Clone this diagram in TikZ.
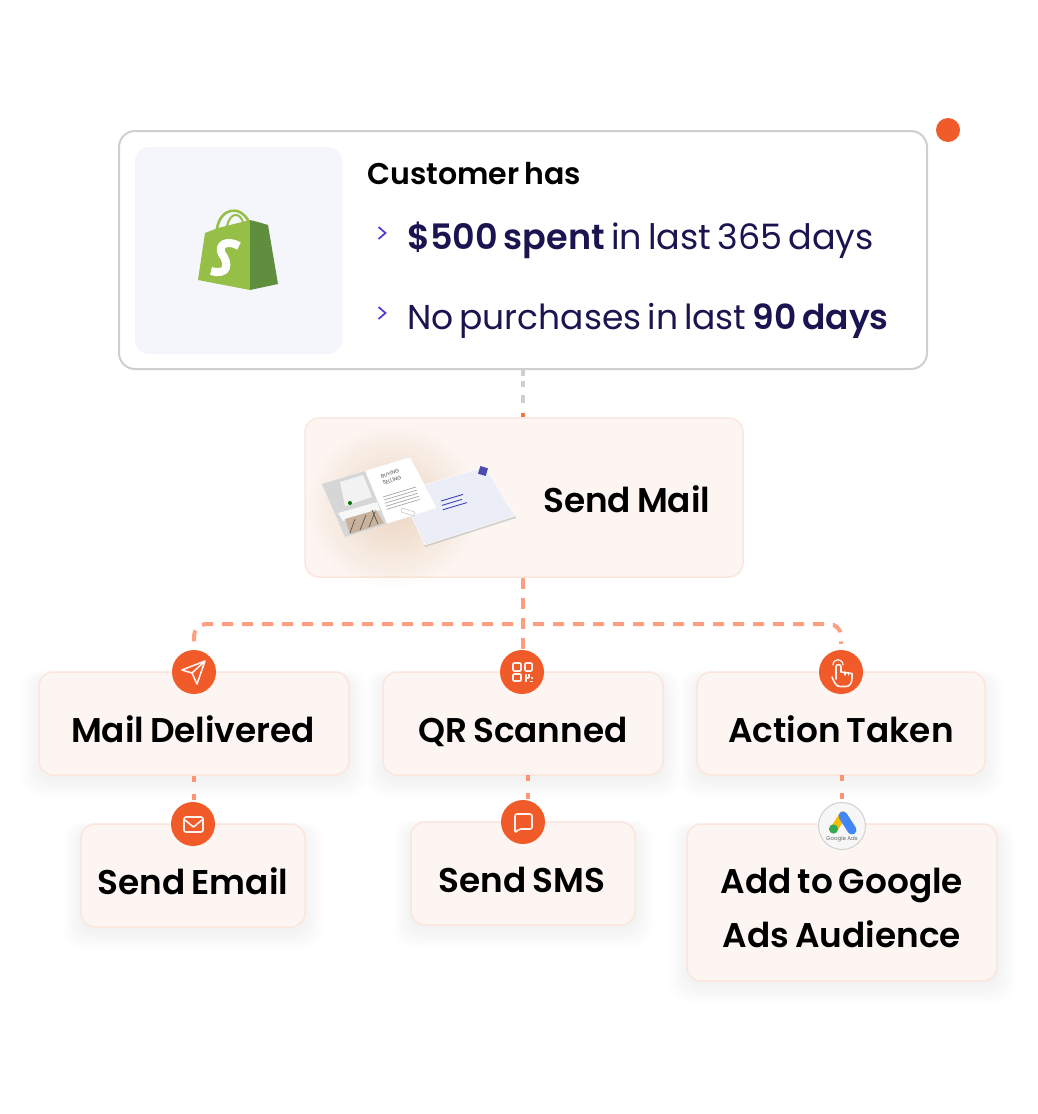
\documentclass[tikz,border=0pt]{standalone}
\usepackage{fontspec}
\setmainfont{Poppins}
\newfontfamily\regf{Poppins}[WordSpace=0.7]
\newfontfamily\regfb{Poppins}[WordSpace=0.65]
\newfontfamily\semif{Poppins SemiBold}[WordSpace=0.72]
\usetikzlibrary{calc}
\definecolor{orng}{HTML}{F15A29}
\definecolor{salmon}{HTML}{FF9F80}
\definecolor{cardfill}{HTML}{FDF5F1}
\definecolor{cardline}{HTML}{FBE6DD}
\definecolor{navy}{HTML}{1A1450}
\definecolor{violet}{HTML}{4F3BD9}
\definecolor{greyline}{HTML}{CFCFCF}
\definecolor{logobg}{HTML}{F4F6FC}
\definecolor{shopl}{HTML}{95BF47}
\definecolor{shopd}{HTML}{5E8E3E}
\definecolor{gyellow}{HTML}{FBBC04}
\definecolor{gblue}{HTML}{4285F4}
\definecolor{ggreen}{HTML}{34A853}
\definecolor{envfill}{HTML}{EBEEF7}
\tikzset{
 card/.style={draw=cardline,fill=cardfill,line width=1.5pt,rounded corners=14pt,inner sep=0pt},
 cardtext/.style={anchor=base,inner sep=0pt,text=black,font=\semif\fontsize{34.3}{34.3}\selectfont},
 iconcirc/.style={circle,fill=orng,minimum size=44pt,inner sep=0pt},
 iconline/.style={draw=white,line width=1.6pt,line join=round,line cap=round,opacity=.92},
 conn/.style={draw=salmon,line width=4pt,dash pattern=on 11pt off 9pt},
 lowconn/.style={draw=salmon!85!orng,line width=4pt,dash pattern=on 6pt off 12pt}
}
\newcommand{\softshadow}[4]{%
 \foreach \i in {1,...,12}{%
  \fill[black,opacity=.0035,rounded corners=18pt] (#1-\i*1.5,#2-\i*.5+4) rectangle (#3+\i*1.5,#4+\i*1.5+4);}}
\newcommand{\card}[5]{% name,x1,y1,x2,y2
 \softshadow{#2}{#3}{#4}{#5}
 \node[card,minimum width=#4pt-#2pt,minimum height=#5pt-#3pt] (#1) at ({(#2+#4)/2},{(#3+#5)/2}) {};}
\begin{document}
\begin{tikzpicture}[x=1pt,y=-1pt]
\useasboundingbox (0,0) rectangle (1038,1114);
% top card
\node[draw=greyline,fill=white,line width=2pt,rounded corners=16pt,minimum width=808pt,minimum height=238pt,inner sep=0pt] (top) at (523,250) {};
\node[fill=logobg,rounded corners=14pt,minimum width=207pt,minimum height=207pt,inner sep=0pt] (logo) at (238.5,250.5) {};
\node[circle,fill=orng,minimum size=24pt,inner sep=0pt] (dot) at (948,130) {};
% shopify bag
\draw[shopl,line width=2.6pt] (217,229) .. controls (220,208) and (240,204) .. (249,222);
\draw[shopl,line width=2pt] (227,226) .. controls (230,213) and (239,211) .. (243,222);
\fill[shopl,line join=round] (198,280) -- (205,233) -- (218,228) -- (250,220) -- (250,290) -- cycle;
\fill[shopd,line join=round] (250,220) -- (258,222) -- (268,225) -- (278,284) -- (250,290) -- cycle;
\draw[white,line width=8pt,line cap=butt] (239,246) .. controls (227,239) and (217,245) .. (222,254) .. controls (229,263) and (229,276) .. (211,271);
% text top
\node[anchor=base west,inner sep=0pt,text=black,font=\semif\fontsize{30}{30}\selectfont] (cust) at (367,184) {Customer has};
\node[anchor=base west,inner sep=0pt,text=navy,font=\regf\fontsize{35}{35}\selectfont] (l1) at (407,249) {{\semif \$500 spent} in last 365 days};
\node[anchor=base west,inner sep=0pt,text=navy,font=\regfb\fontsize{34.5}{34.5}\selectfont] (l2) at (407,329) {No purchases in last {\semif 90 days}};
\coordinate (c1) at (382,233);
\coordinate (c2) at (382,313);
\draw[violet,line width=1.7pt] ($(c1)+(-3.5,-6)$) -- ($(c1)+(3.5,0)$) -- ($(c1)+(-3.5,6)$);
\draw[violet,line width=1.7pt] ($(c2)+(-3.5,-6)$) -- ($(c2)+(3.5,0)$) -- ($(c2)+(-3.5,6)$);
% send mail
\node[card,minimum width=438pt,minimum height=159pt] (send) at (524,497.5) {};
\node[cardtext,anchor=base west] (sendt) at (543,512) {Send Mail};
% glow
\foreach \r in {5,10,...,80}{\fill[brown!75!red!80!black,opacity=.012] (393,507) ellipse ({\r*1.05} and \r);}
% envelope
\fill[black!30,opacity=.55] (425,547) -- (516,518) -- (515,515) -- (424,544) -- cycle;
\fill[envfill,draw=white,line width=.4pt] (400,492) -- (485,467) -- (515,516) -- (425,545) -- cycle;
\foreach \k/\w in {0/22,1/20,2/24}{\draw[blue!65!black!75,line width=.9pt] (441+\k*.9,501+\k*4.4) -- ++(\w,-\w*.3);}
\fill[blue!55!black!70,rotate around={-17:(483,471)}] (479,467) rectangle (487,475);
% postcard
\fill[white,draw=black!8,line width=.3pt] (322,484) -- (410,457) -- (437,508) -- (345,537) -- cycle;
\fill[black!16] (322,484) -- (365,471) -- (387,524) -- (345,537) -- cycle;
\fill[black!5] (340,482) -- (363,475) -- (372,497) -- (345,506) -- cycle;
\fill[black!3] (338,513) -- (377,502) -- (380,510) -- (343,521) -- cycle;
\fill[brown!60!gray!60] (345,519) -- (376,510) -- (384,523) -- (350,534) -- cycle;
\draw[black!70,line width=.6pt] (350,533) -- (355,519) (360,530) -- (366,515) (369,527) -- (375,512) (378,524) -- (372,510);
\fill[green!45!black] (350,503) circle (2);
\node[rotate=17,font=\fontsize{5.2}{7}\selectfont,text=black!70,align=center,inner sep=0pt] (buy) at (391,477) {BUYING\\ SELLING};
\foreach \k in {0,1,2,3,4}{\draw[black!35,line width=.7pt] (383+\k*.9,497+\k*3.1) -- (416+\k*.9,487+\k*3.1);}
\draw[black!25,line width=.5pt,rounded corners=1pt,rotate around={-17:(408,512)}] (401,510) rectangle (415,514);
% lower cards
\card{md}{39}{672}{349}{775}
\card{qr}{383}{672}{663}{775}
\card{at}{697}{672}{985}{775}
\card{se}{81}{824}{305}{927}
\card{ss}{411}{822}{635}{925}
\card{ga}{687}{824}{997}{981}
\node[cardtext] (mdt) at (193,742) {Mail Delivered};
\node[cardtext] (qrt) at (523,742) {QR Scanned};
\node[cardtext] (att) at (841,742) {Action Taken};
\node[cardtext] (set) at (193,894) {Send Email};
\node[cardtext] (sst) at (522,892) {Send SMS};
\node[cardtext] (gat1) at (842,893) {Add to Google};
\node[cardtext] (gat2) at (842,947) {Ads Audience};
% icons
\node[iconcirc] (i1) at (194,672) {};
\node[iconcirc] (i2) at (522,672) {};
\node[iconcirc] (i3) at (841,672) {};
\node[iconcirc] (i4) at (193,824) {};
\node[iconcirc] (i5) at (523,822) {};
\node[circle,fill=black!3,draw=black!18,line width=1pt,minimum size=47pt,inner sep=0pt] (i6) at (842,826) {};
% connectors
\draw[draw=greyline,line width=4pt,dash pattern=on 6pt off 5pt on 6pt off 8pt on 9pt off 10pt] (top.south) -- (523,403) coordinate (gend);
\draw[draw=orng!85,line width=4pt] (523,413) -- (send.north -| top.south);
\coordinate (j) at (523,624);
\draw[conn] (send.south -| top.south) -- (i2.north -| top.south);
\draw[conn,rounded corners=12pt,shorten >=6pt] (j) ++(-10,0) -- (i1 |- j) -- (i1.north);
\draw[conn,rounded corners=12pt,shorten >=6pt] (j) ++(10,0) -- (i3 |- j) -- (i3.north);
\draw[lowconn] (md.south -| i1) -- (i4.north -| i1);
\draw[lowconn] (528,775) -- (528,801);
\draw[lowconn] (842,775) -- (i6.north);
% icon drawings
\draw[iconline] (182,670) -- (205,661) -- (197,684) -- (192,673) -- cycle (192,673) -- (205,661);
\foreach \a/\b/\c/\d in {513/663/521/671,525/663/532/671,513/674/521/681}{\draw[iconline,line width=1.7pt,rounded corners=1pt] (\a,\b) rectangle (\c,\d);}
\draw[iconline,line width=1.7pt,line cap=butt] (526,674) -- (526,682) (526,678) -- (529,678) (529,674) -- (529,678) (532,677) -- (532,679) (530,681.5) -- (533,681.5);
\draw[iconline,line width=1.6pt] (836,668) -- (836,679) (841,672) -- (841,666.5) .. controls (841,664) and (836,664) .. (836,666.5) -- (836,668);
\draw[iconline,line width=1.6pt] (841,672) -- (852,673.5) -- (852,678) .. controls (852,684) and (849,686.5) .. (846,686.5) -- (840,686.5) .. controls (836,686.5) and (834,682) .. (832,677);
\draw[iconline,line width=1.3pt] (833,665) .. controls (833,658) and (843,658) .. (843,665);
\draw[iconline,line width=1.3pt] (845,672) -- (845,675) (848.5,672.5) -- (848.5,675);
\draw[iconline,rounded corners=2pt] (184,817) rectangle (203,832);
\draw[iconline] (185,820) -- (193.5,827) -- (202,820);
\draw[iconline,rounded corners=2pt] (515,833) -- (515,814) -- (532,814) -- (532,829) -- (519,829) -- cycle;
% google ads
\draw[line width=7.5pt,line cap=round,color=gyellow] (843,815) -- (834,829);
\draw[line width=9pt,line cap=round,color=gblue] (843,816) -- (852,830);
\fill[ggreen] (833.5,829) circle (4.6);
\node[font=\fontsize{5.5}{5.5}\selectfont,text=black!60,inner sep=0pt] (gat) at (842,839.5) {Google Ads};
\end{tikzpicture}
\end{document}
